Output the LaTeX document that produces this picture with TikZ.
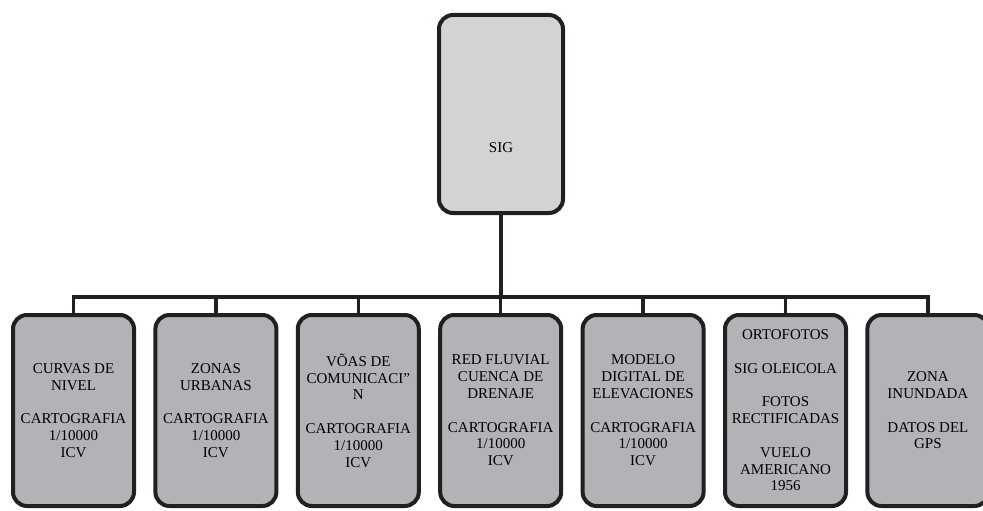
\documentclass[tikz,border=0pt]{standalone}
\usepackage{fontspec}
\setmainfont{Liberation Serif}
\usepackage{tikz}

\definecolor{edge}{HTML}{231F20}
\definecolor{topfill}{HTML}{D1D3D4}
\definecolor{leaffill}{HTML}{B1B3B6}

\begin{document}
\begin{tikzpicture}[x=1pt, y=-1pt, every node/.style={rectangle, draw=edge, line width=4pt, rounded corners=14pt, align=center, inner sep=1pt, font=\fontsize{15}{16.8}\selectfont}]
\useasboundingbox (0,0) rectangle (983,511);
\node[fill=topfill, minimum width=124pt, minimum height=198pt] (sig) at (501,114) {\raisebox{-38pt}[0pt][0pt]{SIG}};
\foreach \i/\txt in {0/{CURVAS DE\\NIVEL\\[16.8pt]CARTOGRAFIA\\1/10000\\ICV},
                     1/{ZONAS\\URBANAS\\[16.8pt]CARTOGRAFIA\\1/10000\\ICV},
                     2/{VÕAS DE\\COMUNICACI”\\N\\[16.8pt]CARTOGRAFIA\\1/10000\\ICV},
                     3/{RED FLUVIAL\\CUENCA DE\\DRENAJE\\[16.8pt]CARTOGRAFIA\\1/10000\\ICV},
                     4/{MODELO\\DIGITAL DE\\ELEVACIONES\\[16.8pt]CARTOGRAFIA\\1/10000\\ICV},
                     5/{ORTOFOTOS\\[16.8pt]SIG OLEICOLA\\[16.8pt]FOTOS\\RECTIFICADAS\\[16.8pt]VUELO\\AMERICANO\\1956},
                     6/{ZONA\\INUNDADA\\[16.8pt]DATOS DEL\\GPS}}
  \node[fill=leaffill, minimum width=121pt, minimum height=191pt] (b\i) at (73.5+142.4*\i,410.5) {\txt};
\foreach \i in {0,...,6}
  \draw[edge, line width=3.5pt] (sig.south) -- ++(0,82) -| (b\i.north);
\end{tikzpicture}
\end{document}
